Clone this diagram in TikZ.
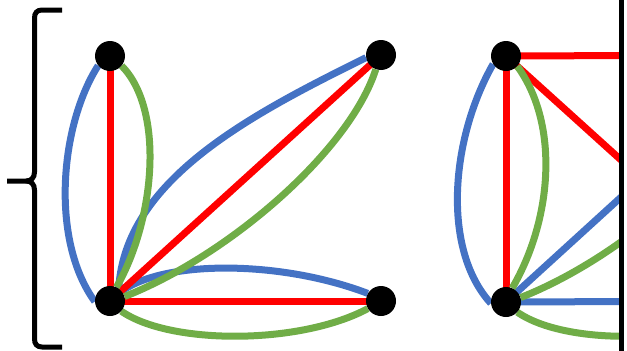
\documentclass[tikz,border=0pt]{standalone}
\usetikzlibrary{backgrounds}
\definecolor{eblue}{HTML}{4472C4}
\definecolor{ered}{HTML}{FF0000}
\definecolor{egreen}{HTML}{70AD47}
\begin{document}
\begin{tikzpicture}[x=1pt,y=-1pt,
  dot/.style={circle,fill=black,inner sep=0pt,minimum size=30pt},
  edge/.style={line width=7pt},
  heavy/.style={line width=5pt,black}]
\useasboundingbox (0,0) rectangle (627,351);
% vertices
\node[dot] (A) at (110,56) {};
\node[dot] (B) at (110,301) {};
\node[dot] (C) at (381,55) {};
\node[dot] (D) at (381,301) {};
\node[dot] (E) at (506,56) {};
\node[dot] (F) at (506,302) {};
\coordinate (C2) at (777,55);
\coordinate (D2) at (777,301);
\begin{scope}[on background layer]
  % left group
  \draw[edge,eblue] (A.219) .. controls (60,125) and (50,240) .. (B.182);
  \draw[edge,eblue] (B.55) .. controls (125,180) and (250,115) .. (C.190);
  \draw[edge,eblue] (B.40) .. controls (165,260) and (280,260) .. (D.150);
  \draw[edge,ered] (A.center) -- (B.center);
  \draw[edge,ered] (B.center) -- (C.center);
  \draw[edge,ered] (B.center) -- (D.center);
  \draw[edge,egreen] (A.320) .. controls (165,110) and (155,220) .. (B.65);
  \draw[edge,egreen] (B.17) .. controls (230,255) and (350,150) .. (C.250);
  \draw[edge,egreen] (B.318) .. controls (170,345) and (300,345) .. (D.210);
  % right group
  \begin{scope}
    \clip (430,0) rectangle (620,351);
    \draw[edge,eblue] (E.212) .. controls (450,140) and (442,250) .. (F.185);
    \draw[edge,eblue] (F.center) -- (C2);
    \draw[edge,eblue] (F.center) -- (D2);
    \draw[edge,ered] (E.center) -- (F.center);
    \draw[edge,ered] (E.center) -- (C2);
    \draw[edge,ered] (E.center) -- (D2);
    \draw[edge,egreen] (E.318) .. controls (560,125) and (552,220) .. (F.66);
    \draw[edge,egreen] (F.17) .. controls (626,256) and (746,151) .. (C2);
    \draw[edge,egreen] (F.318) .. controls (566,346) and (696,346) .. (D2);
  \end{scope}
\end{scope}
% right bar
\draw[heavy] (621.5,0) -- (621.5,351);
% left brace
\draw[heavy] (62,10) -- (42,10) .. controls (37,10) and (34.5,13) .. (34.5,18)
  -- (34.5,172) .. controls (34.5,178) and (31,181) .. (26,181) -- (7,181);
\draw[heavy] (26,181) .. controls (31,181) and (34.5,184) .. (34.5,190)
  -- (34.5,339) .. controls (34.5,344) and (37,347) .. (42,347) -- (62,347);
\end{tikzpicture}
\end{document}
